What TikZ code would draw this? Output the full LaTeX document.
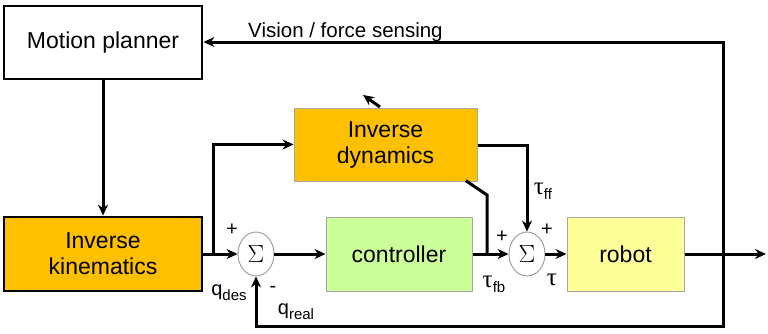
\documentclass[tikz,border=0pt]{standalone}
\usepackage{fontspec}
\setmainfont{Liberation Sans}
\newfontfamily\symfont{Liberation Serif}
\usetikzlibrary{shapes.geometric,arrows.meta}
\definecolor{blockorange}{HTML}{FFC000}
\definecolor{blockgreen}{HTML}{CCFF99}
\definecolor{blockyellow}{HTML}{FFFF99}
\newcommand{\lbl}[2]{#1{\fontsize{15}{15}\selectfont\raisebox{-5pt}{#2}}}
\newcommand{\taulbl}[1]{τ{\fontsize{15}{15}\selectfont\raisebox{-5pt}{\rmfamily #1}}}
\tikzset{
  blk/.style={draw, rectangle, align=center, font=\fontsize{23}{26}\selectfont},
  heavyblk/.style={blk, line width=2.8pt},
  lightblk/.style={blk, draw=gray!70, line width=1pt},
  sumnode/.style={draw=gray!80, line width=0.9pt, ellipse, minimum width=36pt, minimum height=44pt, inner sep=0pt, fill=white, font=\symfont\fontsize{23}{23}\selectfont},
  wire/.style={draw, line width=3pt, line cap=rect},
  flow/.style={draw, line width=3pt, -{Stealth[length=11pt,width=10pt]}},
  tag/.style={font=\fontsize{20}{20}\selectfont, inner sep=0pt},
  symtag/.style={font=\symfont\fontsize{25}{25}\selectfont, inner sep=0pt}
}
\begin{document}
\begin{tikzpicture}[x=1pt,y=-1pt]
\useasboundingbox (0,0) rectangle (768,333);

% blocks
\node[heavyblk, fill=white, minimum width=198pt, minimum height=73pt] (mp) at (103,42.5) {Motion planner};
\node[heavyblk, fill=blockorange, minimum width=198pt, minimum height=74pt] (ik) at (103,254) {Inverse\\kinematics};
\node[lightblk, fill=blockorange, minimum width=183pt, minimum height=73pt] (id) at (385.5,144.5) {Inverse\\dynamics};
\node[lightblk, fill=blockgreen, minimum width=146pt, minimum height=74pt] (ctrl) at (399,254) {controller};
\node[lightblk, fill=blockyellow, minimum width=117pt, minimum height=74pt] (rob) at (625.5,254) {robot};

% summing junctions
\node[sumnode] (s1) at (256,254) {$\Sigma$};
\node[sumnode] (s2) at (527,254) {$\Sigma$};

% helper points
\coordinate (br1) at (213,254);
\coordinate (fbx) at (723,254);
\coordinate (out) at (766,254);
\coordinate (bend) at (487,195);
\coordinate (idlow) at (467,181.5);
\coordinate (ffcorner) at (527,145);
\coordinate (upa) at (380,107);
\coordinate (upb) at (363,95);

% connectors
\draw[flow] (mp.south) -- (ik.north);
\draw[flow] (ik.east) -- (s1.west);
\draw[flow] (br1) |- (id.west);
\draw[flow] (s1.east) -- (ctrl.west);
\draw[flow] (ctrl.east) -- (s2.west);
\draw[wire] (idlow) -- (bend) -- (bend |- ctrl.east);
\draw[flow] (id.east |- ffcorner) -- (ffcorner) -- (s2.north);
\draw[flow] (s2.east) -- (rob.west);
\draw[flow] (rob.east) -- (out);
\draw[flow] (fbx) -- (723,42) -- (mp.east |- 0,42);
\draw[flow] (fbx) -- (723,326) -- (256,326) -- (s1.south);
\draw[flow] (upa) -- (upb);

% labels
\node[font=\fontsize{20.5}{22}\selectfont, anchor=base west, inner sep=0pt] (vis) at (248,37) {Vision / force sensing};
\node[tag] (p1) at (232,230) {+};
\node[tag] (qd) at (229,293) {\lbl{q}{des}};
\node[tag] (m1) at (273,289) {-};
\node[tag] (qr) at (296,312) {\lbl{q}{real}};
\node[tag] (p2) at (502,237) {+};
\node[tag] (p3) at (547,230) {+};
\node[symtag] (tff) at (543,191) {\taulbl{ff}};
\node[symtag] (tfb) at (494,284) {\taulbl{fb}};
\node[symtag] (tau) at (552,280) {τ};
\end{tikzpicture}
\end{document}
